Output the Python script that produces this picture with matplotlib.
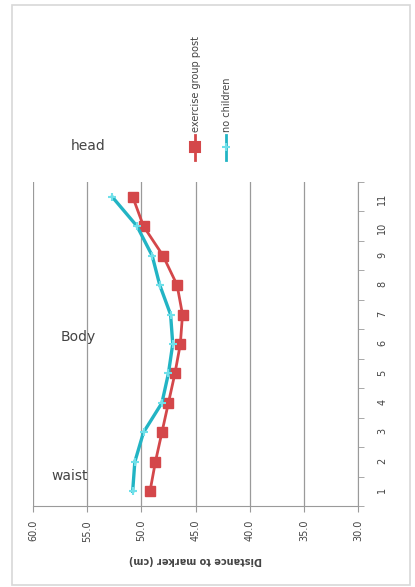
import numpy as np
from matplotlib import pyplot as plt
from matplotlib.patches import Rectangle

# marker positions (1 = waist ... 11 = head)
positions = [1, 2, 3, 4, 5, 6, 7, 8, 9, 10, 11]
exercisePost = [49.2, 48.7, 48.1, 47.5, 46.9, 46.4, 46.2, 46.7, 48.0, 49.8, 50.8]
noChildren = [50.8, 50.6, 49.8, 48.1, 47.5, 47.1, 47.3, 48.3, 49.0, 50.4, 52.7]
seriesNames = ['exercise group post', 'no children']
distTicks = [60.0, 55.0, 50.0, 45.0, 40.0, 35.0, 30.0]

red = '#d4474a'
cyan = '#22b4c4'
grey = '#9a9a9a'

fig = plt.figure(figsize=(4.15, 5.87), dpi=100)
fig.patches.append(Rectangle((12 / 415, 2 / 587), 398 / 415, 580 / 587, transform=fig.transFigure,
                             fill=False, edgecolor='#d8d8d8', linewidth=1.2))

ax = fig.add_axes([33 / 415, 1 - 506 / 587, 325 / 415, 324 / 587])
ax.plot(exercisePost, positions, color=red, linewidth=2.0, marker='s', markersize=7.5,
        markerfacecolor=red, markeredgecolor=red, label=seriesNames[0], zorder=3)
ax.plot(noChildren, positions, color=cyan, linewidth=2.4, marker='+', markersize=6,
        markeredgecolor='#6fe0ea', markeredgewidth=1.5, label=seriesNames[1], zorder=4)

ax.set_xlim(60, 30)
ax.set_ylim(0.5, 11.5)
ax.set_xticks(distTicks)
ax.set_xticklabels(['%.1f' % v for v in distTicks], rotation=90, fontsize=7, color='#444444')
ax.set_yticks(positions)
ax.set_yticklabels([str(p) for p in positions], rotation=90, fontsize=7, color='#444444')
ax.set_yticks(np.arange(0.5, 12, 1), minor=True)
ax.yaxis.tick_right()
ax.tick_params(axis='y', which='major', length=0, pad=14)
ax.tick_params(axis='y', which='minor', length=4, color=grey, direction='out')
ax.tick_params(axis='x', length=4, color=grey, pad=6)
ax.xaxis.grid(True, color=grey, linewidth=0.9)
ax.set_axisbelow(True)
for s in ['top', 'left']:
    ax.spines[s].set_visible(False)
for s in ['bottom', 'right']:
    ax.spines[s].set_color(grey)
ax.set_xlabel('Distance to marker (cm)', rotation=180, fontsize=7, fontweight='bold',
              color='#444444', labelpad=10)

fig.text(88 / 415, 1 - 146 / 587, 'head', fontsize=10, color='#444444', ha='center', va='center')
fig.text(78 / 415, 1 - 337 / 587, 'Body', fontsize=10, color='#444444', ha='center', va='center')
fig.text(70 / 415, 1 - 476 / 587, 'waist', fontsize=10, color='#444444', ha='center', va='center')

# legend, drawn vertically like the rotated original
lax = fig.add_axes([180 / 415, 1 - 165 / 587, 60 / 415, 150 / 587])
lax.set_xlim(0, 60)
lax.set_ylim(0, 150)
lax.axis('off')
legendStyles = [(red, 's', 7.5, red), (cyan, '+', 6, '#6fe0ea')]
for k, (name, (c, m, ms, mec)) in enumerate(zip(seriesNames, legendStyles)):
    xk = 15 + 31 * k
    lax.plot([xk, xk], [5, 30], color=c, linewidth=2)
    lax.plot([xk], [18], marker=m, markersize=ms, color=c, markeredgecolor=mec, markeredgewidth=1.5)
    lax.text(xk + 1, 33, name, rotation=90, fontsize=7, color='#444444', ha='center', va='bottom')

fig.savefig('out.png', dpi=100)
